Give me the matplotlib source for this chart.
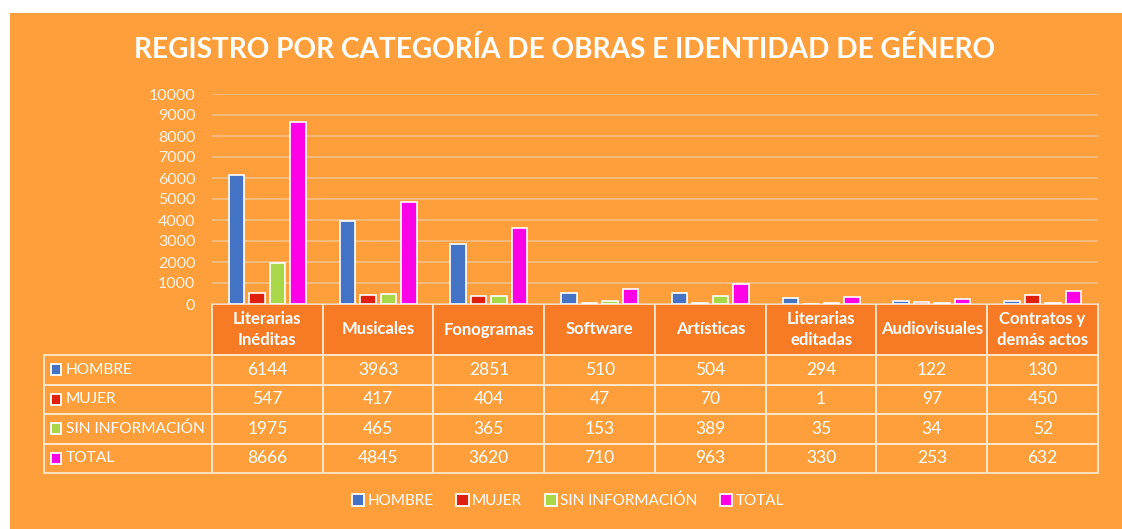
import numpy as np
from matplotlib import pyplot as plt
from matplotlib.patches import Rectangle, Patch

plt.rcParams['font.family'] = ['Lato', 'DejaVu Sans']

# datos
categorias = ["Literarias\nInéditas", "Musicales", "Fonogramas", "Software", "Artísticas",
              "Literarias\neditadas", "Audiovisuales", "Contratos y\ndemás actos"]
series = ["HOMBRE", "MUJER", "SIN INFORMACIÓN", "TOTAL"]
hombre = [6144, 3963, 2851, 510, 504, 294, 122, 130]
mujer = [547, 417, 404, 47, 70, 1, 97, 450]
sin_info = [1975, 465, 365, 153, 389, 35, 34, 52]
total = [8666, 4845, 3620, 710, 963, 330, 253, 632]
yticks = list(range(0, 10001, 1000))

colores = ["#4472C4", "#E0200F", "#A8D84A", "#FF00E6"]
fondo = "#FE9F3B"
cabecera = "#F77B24"
linea = "#FDE6CC"
W, H = 1122, 529

fig = plt.figure(figsize=(W / 100, H / 100), dpi=100)
fig.patch.set_facecolor("white")

# capa de fondo + tabla, en coordenadas de pixel
bg = fig.add_axes([0, 0, 1, 1], zorder=-1)
bg.set_xlim(0, W)
bg.set_ylim(H, 0)
bg.axis("off")
bg.add_patch(Rectangle((10, 13), W - 10, H - 13, color=fondo, lw=0))

bg.text(565, 49, "REGISTRO POR CATEGORÍA DE OBRAS E IDENTIDAD DE GÉNERO", color="white",
        fontsize=20.2, fontweight="bold", ha="center", va="center")

# grafico de barras
x0, x1, ytop, ybot = 212, 1098, 94, 304
ax = fig.add_axes([x0 / W, 1 - ybot / H, (x1 - x0) / W, (ybot - ytop) / H])
ax.set_facecolor("none")
x = np.arange(len(categorias))
valores = [hombre, mujer, sin_info, total]
paso, ancho = 0.185, 0.14
for i, (v, c) in enumerate(zip(valores, colores)):
    ax.bar(x + (i - 1.5) * paso, v, ancho, color=c, edgecolor="white", linewidth=1.2, zorder=3)
ax.set_xlim(-0.5, len(categorias) - 0.5)
ax.set_ylim(0, 10000)
ax.set_yticks(yticks)
ax.set_xticks([])
ax.grid(axis="y", color="#F3C08A", linewidth=1.2, zorder=0)
for s in ax.spines.values():
    s.set_visible(False)
ax.tick_params(axis="y", length=0, pad=12, labelcolor="#FFF3E6", labelsize=11.5)

# tabla de datos
col_w = (x1 - x0) / len(categorias)
lab_x0 = 44
head_top, head_bot = 304, 355
row_h = (473 - head_bot) / len(series)
for j, cat in enumerate(categorias):
    cx = x0 + j * col_w
    bg.add_patch(Rectangle((cx, head_top), col_w, head_bot - head_top, facecolor=cabecera,
                           edgecolor=linea, lw=1.3))
    bg.text(cx + col_w / 2, (head_top + head_bot) / 2, cat, color="white", fontsize=12,
            fontweight="bold", ha="center", va="center", linespacing=1.4)
for i, (nombre, v, c) in enumerate(zip(series, valores, colores)):
    ry = head_bot + i * row_h
    bg.add_patch(Rectangle((lab_x0, ry), x0 - lab_x0, row_h, facecolor="none",
                           edgecolor=linea, lw=1.3))
    bg.add_patch(Rectangle((51, ry + row_h / 2 - 5.5), 10, 11, facecolor=c,
                           edgecolor="white", lw=1.3))
    bg.text(66, ry + row_h / 2, nombre, color="white", fontsize=11.2, ha="left", va="center")
    for j, val in enumerate(v):
        cx = x0 + j * col_w
        bg.add_patch(Rectangle((cx, ry), col_w, row_h, facecolor="none", edgecolor=linea, lw=1.3))
        bg.text(cx + col_w / 2, ry + row_h / 2, str(val), color="white", fontsize=12.5,
                ha="center", va="center")

# leyenda
handles = [Patch(facecolor=c, edgecolor="white", linewidth=1.3, label=s) for s, c in zip(series, colores)]
leg = fig.legend(handles=handles, loc="center", bbox_to_anchor=(568 / W, 1 - 501 / H), ncol=4,
                 frameon=False, fontsize=11, labelcolor="white", handlelength=0.8,
                 handleheight=0.8, handletextpad=0.2, columnspacing=1.5)

fig.savefig("out.png", dpi=100, facecolor=fig.get_facecolor())
